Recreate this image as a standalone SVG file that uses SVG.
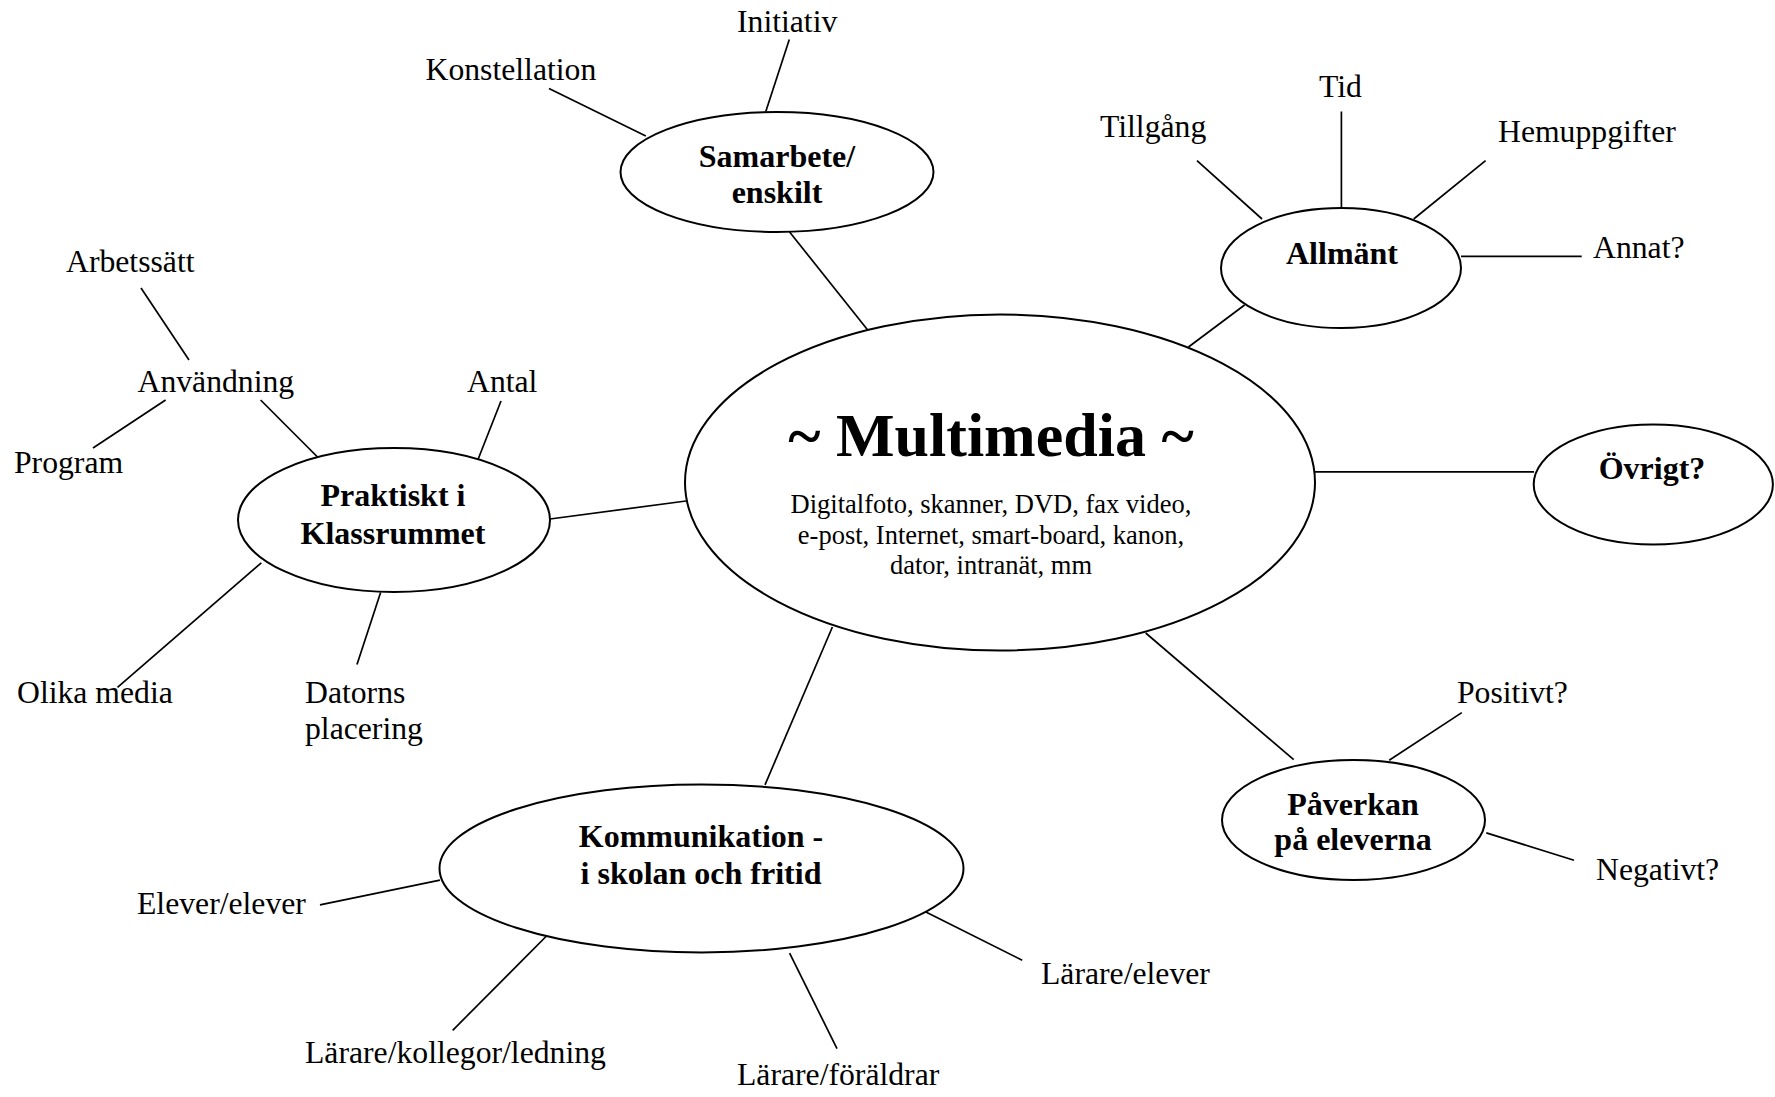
<svg xmlns="http://www.w3.org/2000/svg" width="1775" height="1097" viewBox="0 0 1775 1097">
<style>
  .bg { fill: #ffffff; }
  .node { fill: #ffffff; stroke: #000000; stroke-width: 2; }
  .conn line { stroke: #000000; stroke-width: 1.7; stroke-linecap: butt; }
  text { font-family: "Liberation Serif", "Times New Roman", serif; fill: #000000; }
  .lbl { font-size: 31.7px; }
  .bold { font-size: 32px; font-weight: bold; text-anchor: middle; }
  .title { font-size: 62px; font-weight: bold; text-anchor: middle; }
  .sub { font-size: 26.5px; text-anchor: middle; }
</style>
<rect class="bg" x="0" y="0" width="1775" height="1097"/>

<g id="connectors" class="conn">
  <line x1="789.6" y1="232" x2="867.5" y2="329.7"/>
  <line x1="789.3" y1="39.6" x2="765.8" y2="111.5"/>
  <line x1="549" y1="88.4" x2="645.8" y2="136"/>
  <line x1="1188.5" y1="347" x2="1244.6" y2="305"/>
  <line x1="1197" y1="160.6" x2="1262" y2="219"/>
  <line x1="1341.4" y1="111.5" x2="1341.4" y2="208"/>
  <line x1="1485.6" y1="160.6" x2="1413.7" y2="219"/>
  <line x1="1461" y1="256.4" x2="1581.7" y2="256.4"/>
  <line x1="1315" y1="471.8" x2="1534" y2="471.8"/>
  <line x1="1145.7" y1="633" x2="1293.7" y2="759.6"/>
  <line x1="1461.8" y1="712.6" x2="1389.2" y2="760.3"/>
  <line x1="1486.3" y1="832.9" x2="1574" y2="860.2"/>
  <line x1="832.4" y1="627" x2="765" y2="784.8"/>
  <line x1="320" y1="904.8" x2="440" y2="880.2"/>
  <line x1="452.7" y1="1030.3" x2="548.5" y2="934"/>
  <line x1="789.6" y1="953.2" x2="837" y2="1048.6"/>
  <line x1="925.4" y1="911.8" x2="1022.2" y2="960.2"/>
  <line x1="550" y1="519" x2="686" y2="501"/>
  <line x1="501" y1="401" x2="478" y2="459.5"/>
  <line x1="260.6" y1="400" x2="320" y2="459.5"/>
  <line x1="165.6" y1="400" x2="93" y2="448"/>
  <line x1="141" y1="288" x2="189" y2="360"/>
  <line x1="261.3" y1="562.8" x2="117.5" y2="687.3"/>
  <line x1="380.6" y1="592.6" x2="357" y2="664.5"/>
</g>

<g id="node-multimedia">
  <ellipse class="node" cx="1000" cy="482.5" rx="315" ry="168"/>
  <text class="title" x="991" y="456">~ Multimedia ~</text>
  <text class="sub" x="991" y="512.8">Digitalfoto, skanner, DVD, fax video,</text>
  <text class="sub" x="991" y="543.7">e-post, Internet, smart-board, kanon,</text>
  <text class="sub" x="991" y="574.4">dator, intranät, mm</text>
</g>

<g id="node-samarbete">
  <ellipse class="node" cx="777" cy="172" rx="156.5" ry="60"/>
  <text class="bold" x="777" y="166.6">Samarbete/</text>
  <text class="bold" x="777" y="203.4">enskilt</text>
</g>

<g id="node-allmant">
  <ellipse class="node" cx="1341" cy="268" rx="120" ry="60"/>
  <text class="bold" x="1342" y="264">Allmänt</text>
</g>

<g id="node-ovrigt">
  <ellipse class="node" cx="1653.3" cy="484.4" rx="119.6" ry="60"/>
  <text class="bold" x="1652" y="479">Övrigt?</text>
</g>

<g id="node-praktiskt">
  <ellipse class="node" cx="394" cy="520" rx="156" ry="72"/>
  <text class="bold" x="393" y="506">Praktiskt i</text>
  <text class="bold" x="393" y="543.5">Klassrummet</text>
</g>

<g id="node-kommunikation">
  <ellipse class="node" cx="701.5" cy="868.4" rx="262" ry="84"/>
  <text class="bold" x="701" y="847">Kommunikation -</text>
  <text class="bold" x="701" y="884.4">i skolan och fritid</text>
</g>

<g id="node-paverkan">
  <ellipse class="node" cx="1353.5" cy="820" rx="131.5" ry="60"/>
  <text class="bold" x="1353" y="815">Påverkan</text>
  <text class="bold" x="1353" y="850.4">på eleverna</text>
</g>

<g id="labels">
  <text class="lbl" x="737" y="32">Initiativ</text>
  <text class="lbl" x="425.5" y="80">Konstellation</text>
  <text class="lbl" x="1100" y="137">Tillgång</text>
  <text class="lbl" x="1319" y="96.5">Tid</text>
  <text class="lbl" x="1498" y="142">Hemuppgifter</text>
  <text class="lbl" x="1593" y="258">Annat?</text>
  <text class="lbl" x="66" y="272">Arbetssätt</text>
  <text class="lbl" x="137.5" y="392">Användning</text>
  <text class="lbl" x="467" y="392">Antal</text>
  <text class="lbl" x="14" y="473">Program</text>
  <text class="lbl" x="17" y="703">Olika media</text>
  <text class="lbl" x="305" y="703">Datorns</text>
  <text class="lbl" x="305" y="739">placering</text>
  <text class="lbl" x="1457" y="703">Positivt?</text>
  <text class="lbl" x="1596" y="879.5">Negativt?</text>
  <text class="lbl" x="137" y="913.5">Elever/elever</text>
  <text class="lbl" x="1041" y="983.7">Lärare/elever</text>
  <text class="lbl" x="305" y="1062.6">Lärare/kollegor/ledning</text>
  <text class="lbl" x="737" y="1085.4">Lärare/föräldrar</text>
</g>
</svg>
